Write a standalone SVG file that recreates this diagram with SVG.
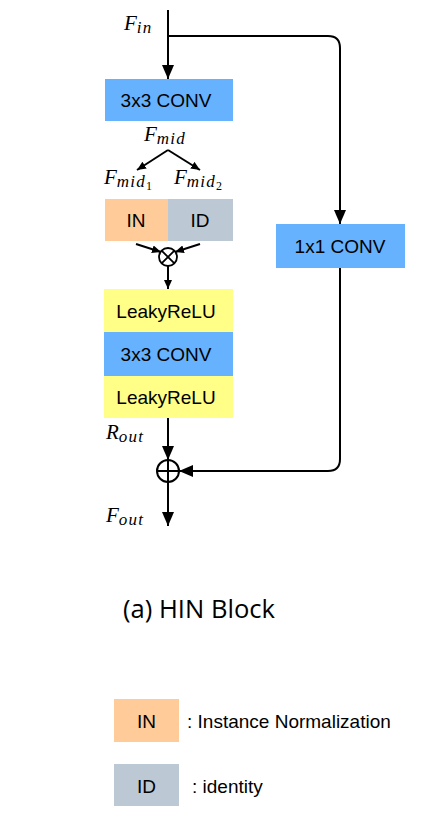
<svg xmlns="http://www.w3.org/2000/svg" width="447" height="813" viewBox="0 0 447 813">
<defs>
<marker id="ah" markerUnits="userSpaceOnUse" markerWidth="14" markerHeight="12" refX="14" refY="6" orient="auto"><path d="M0,0 L14,6 L0,12 z" fill="#000"/></marker>
<marker id="as" markerUnits="userSpaceOnUse" markerWidth="9" markerHeight="8" refX="9" refY="4" orient="auto"><path d="M0,0 L9,4 L0,8 z" fill="#000"/></marker>
<style>
.lbl{font-family:"Liberation Sans",Arial,sans-serif;font-size:19px;fill:#000;text-anchor:middle}
.m{font-family:"Liberation Serif","Times New Roman",serif;font-style:italic;fill:#000;font-size:21px}
.s{font-size:17px;letter-spacing:1.2px}
.n{font-size:12px;font-style:normal}
.ln{fill:none;stroke:#000;stroke-width:2}
.blue{fill:#66B2FF}.yel{fill:#FFFF88}.pea{fill:#FFCC99}.gry{fill:#BCC8D3}
</style>
</defs>
<rect width="447" height="813" fill="#fff"/>
<g id="connectors">
<path class="ln" d="M168,10 V79" marker-end="url(#ah)"/>
<path class="ln" d="M168,36 H328 Q340,36 340,48 V224" marker-end="url(#ah)"/>
<path class="ln" d="M168,150 L137,170" marker-end="url(#as)" stroke-width="1.8"/>
<path class="ln" d="M168,150 L200,170" marker-end="url(#as)" stroke-width="1.8"/>
<path class="ln" d="M136,244 L161,252" marker-end="url(#as)" stroke-width="1.8"/>
<path class="ln" d="M200,244 L175,252" marker-end="url(#as)" stroke-width="1.8"/>
<path class="ln" d="M168,266 V289" marker-end="url(#as)" stroke-width="1.8"/>
<path class="ln" d="M168,418 V460" marker-end="url(#ah)"/>
<path class="ln" d="M340,268 V459 Q340,471 328,471 H179" marker-end="url(#ah)"/>
<path class="ln" d="M168,482 V526" marker-end="url(#ah)"/>
</g>
<g id="fin"><text class="m" x="124" y="30">F<tspan class="s" dy="3">in</tspan></text></g>
<g id="conv1"><rect class="blue" x="105" y="79" width="128" height="42"/><text class="lbl" x="166" y="107">3x3 CONV</text></g>
<g id="fmid"><text class="m" x="144" y="141">F<tspan class="s" dy="3">mid</tspan></text></g>
<g id="fmid1"><text class="m" x="104" y="184">F<tspan class="s" dy="3">mid</tspan><tspan class="n" dy="3">1</tspan></text></g>
<g id="fmid2"><text class="m" x="174" y="184">F<tspan class="s" dy="3">mid</tspan><tspan class="n" dy="3">2</tspan></text></g>
<g id="in"><rect class="pea" x="105" y="199" width="63" height="42"/><text class="lbl" x="136" y="227">IN</text></g>
<g id="id"><rect class="gry" x="168" y="199" width="65" height="42"/><text class="lbl" x="200" y="227">ID</text></g>
<g id="mul"><circle cx="168" cy="257" r="9" fill="#fff" stroke="#000" stroke-width="1.8"/><path d="M161.6,250.6 L174.4,263.4 M174.4,250.6 L161.6,263.4" stroke="#000" stroke-width="1.8"/></g>
<g id="lrelu1"><rect class="yel" x="104" y="289" width="129" height="43"/><text class="lbl" x="166" y="318">LeakyReLU</text></g>
<g id="conv2"><rect class="blue" x="104" y="332" width="129" height="44"/><text class="lbl" x="166" y="361">3x3 CONV</text></g>
<g id="lrelu2"><rect class="yel" x="104" y="376" width="129" height="42"/><text class="lbl" x="166" y="404">LeakyReLU</text></g>
<g id="conv11"><rect class="blue" x="276" y="224" width="129" height="44"/><text class="lbl" x="340" y="253">1x1 CONV</text></g>
<g id="rout"><text class="m" x="106" y="439">R<tspan class="s" dy="3">out</tspan></text></g>
<g id="add"><circle cx="168" cy="471" r="11" fill="#fff" stroke="#000" stroke-width="2"/><path d="M157,471 H179 M168,460 V482" stroke="#000" stroke-width="2"/></g>
<g id="fout"><text class="m" x="106" y="522">F<tspan class="s" dy="3">out</tspan></text></g>
<g id="title"><text x="123" y="618" font-family="'Open Sans',sans-serif" font-size="25" textLength="152" lengthAdjust="spacingAndGlyphs">(a) HIN Block</text></g>
<g id="legend-in"><rect class="pea" x="114" y="699" width="65" height="43"/><text class="lbl" x="146.5" y="728">IN</text><text x="187" y="728" font-family="'Liberation Sans',Arial,sans-serif" font-size="19">: Instance Normalization</text></g>
<g id="legend-id"><rect class="gry" x="114" y="764" width="65" height="42"/><text class="lbl" x="146.5" y="793">ID</text><text x="192" y="793" font-family="'Liberation Sans',Arial,sans-serif" font-size="19">: identity</text></g>
</svg>
